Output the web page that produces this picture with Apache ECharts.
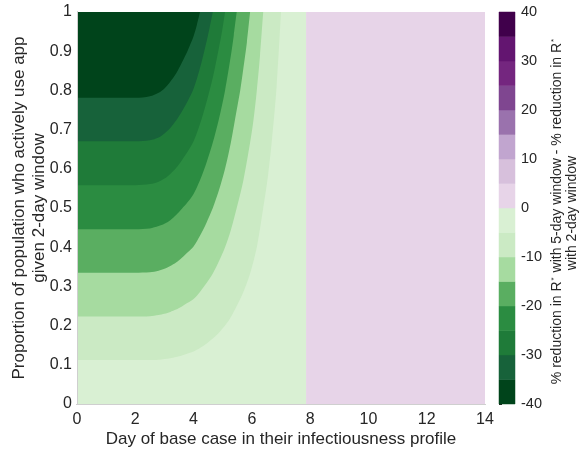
<!DOCTYPE html>
<html>
<head>
<meta charset="utf-8">
<script src="https://cdn.jsdelivr.net/npm/echarts@6/dist/echarts.min.js"></script>
<style>
  html, body { margin: 0; padding: 0; background: #ffffff; }
  #chart { width: 582px; height: 450px; }
</style>
</head>
<body>
<div id="chart"></div>
<script>
// Axis ranges and tick settings
const dayRange = [0, 14];
const dayTickStep = 2;
const propRange = [0, 1];
const propTickStep = 0.1;

// Filled contour levels (difference in % reduction of R*) and their colours
const levelEdges = [-40, -35, -30, -25, -20, -15, -10, -5, 0, 5, 10, 15, 20, 25, 30, 35, 40];
const levelColors = [
  '#00441b', '#17623a', '#1f7b39', '#2b8c41', '#5aae61', '#a6dba0', '#cbeac4', '#d9f0d3',
  '#e7d4e8', '#d7c0dc', '#c1a5cf', '#9a72ad', '#7f4690', '#74267f', '#631570', '#40004b'
];
const colorbarTicks = [-40, -30, -20, -10, 0, 10, 20, 30, 40];

// Day beyond which the 5-day window gives no extra reduction (0 to 5 band)
const signChangeDay = 7.86;

// Contour lines [day, proportion] for each negative level
const contourMinus5 = [[0, 0.112], [2.0, 0.112], [2.5, 0.112], [2.8, 0.113], [3.0, 0.115], [3.2, 0.117], [3.4, 0.120], [3.6, 0.124], [3.8, 0.129], [4.0, 0.134], [4.22, 0.143], [4.44, 0.154], [4.66, 0.167], [4.87, 0.182], [5.08, 0.200], [5.28, 0.222], [5.48, 0.250], [5.71, 0.286], [5.94, 0.333], [6.17, 0.400], [6.39, 0.500], [6.55, 0.580], [6.68, 0.667], [6.85, 0.810], [7.0, 1.0]];
const contourMinus10 = [[0, 0.223], [2.0, 0.223], [2.5, 0.224], [2.8, 0.227], [3.0, 0.230], [3.2, 0.235], [3.4, 0.241], [3.6, 0.249], [3.8, 0.258], [4.0, 0.268], [4.22, 0.286], [4.44, 0.308], [4.66, 0.333], [4.87, 0.364], [5.08, 0.400], [5.28, 0.444], [5.48, 0.500], [5.71, 0.571], [5.94, 0.667], [6.06, 0.727], [6.17, 0.800], [6.28, 0.889], [6.39, 1.0]];
const contourMinus15 = [[0, 0.335], [2.0, 0.335], [2.5, 0.336], [2.8, 0.340], [3.0, 0.345], [3.2, 0.352], [3.4, 0.361], [3.6, 0.373], [3.8, 0.387], [4.0, 0.402], [4.22, 0.429], [4.44, 0.462], [4.66, 0.500], [4.87, 0.545], [5.08, 0.600], [5.28, 0.667], [5.48, 0.750], [5.60, 0.800], [5.71, 0.857], [5.83, 0.923], [5.94, 1.0]];
const contourMinus20 = [[0, 0.446], [2.0, 0.446], [2.5, 0.448], [2.8, 0.454], [3.0, 0.460], [3.2, 0.469], [3.4, 0.482], [3.6, 0.498], [3.8, 0.515], [4.0, 0.536], [4.22, 0.571], [4.44, 0.615], [4.66, 0.667], [4.87, 0.727], [5.08, 0.800], [5.28, 0.889], [5.38, 0.941], [5.48, 1.0]];
const contourMinus25 = [[0, 0.558], [2.0, 0.558], [2.5, 0.561], [2.8, 0.567], [3.0, 0.575], [3.2, 0.587], [3.4, 0.602], [3.6, 0.622], [3.8, 0.644], [4.0, 0.670], [4.22, 0.714], [4.44, 0.769], [4.66, 0.833], [4.87, 0.909], [4.98, 0.952], [5.08, 1.0]];
const contourMinus30 = [[0, 0.670], [2.0, 0.670], [2.5, 0.673], [2.8, 0.680], [3.0, 0.690], [3.2, 0.704], [3.4, 0.723], [3.6, 0.746], [3.8, 0.773], [4.0, 0.804], [4.22, 0.857], [4.44, 0.923], [4.55, 0.960], [4.66, 1.0]];
const contourMinus35 = [[0, 0.781], [2.0, 0.781], [2.5, 0.785], [2.8, 0.794], [3.0, 0.805], [3.2, 0.822], [3.4, 0.843], [3.6, 0.871], [3.8, 0.902], [4.0, 0.938], [4.11, 0.966], [4.22, 1.0]];

const textColor = '#262626';
const fontFamily = '"Liberation Sans", Arial, Helvetica, sans-serif';

// Colour of the band that sits just below a given level
function bandColor(lowerEdge) {
  return levelColors[levelEdges.indexOf(lowerEdge)];
}

// A region above a contour line up to the top of the plot
function filledRegion(points, color) {
  return {
    type: 'line',
    xAxisIndex: 0,
    yAxisIndex: 0,
    data: points,
    smooth: 0.3,
    symbol: 'none',
    silent: true,
    animation: false,
    lineStyle: { width: 0, opacity: 0 },
    areaStyle: { color: color, opacity: 1, origin: 'end' }
  };
}

const series = [
  // 0 to 5 band on the late-day side
  filledRegion([[signChangeDay, propRange[0]], [dayRange[1], propRange[0]]], bandColor(0)),
  // -5 to 0 band across the early-day side
  filledRegion([[dayRange[0], propRange[0]], [signChangeDay, propRange[0]]], bandColor(-5)),
  filledRegion(contourMinus5, bandColor(-10)),
  filledRegion(contourMinus10, bandColor(-15)),
  filledRegion(contourMinus15, bandColor(-20)),
  filledRegion(contourMinus20, bandColor(-25)),
  filledRegion(contourMinus25, bandColor(-30)),
  filledRegion(contourMinus30, bandColor(-35)),
  filledRegion(contourMinus35, bandColor(-40)),
  // colour bar
  {
    type: 'custom',
    xAxisIndex: 2,
    yAxisIndex: 2,
    silent: true,
    animation: false,
    data: levelEdges.slice(0, -1).map((lo, i) => [lo, levelEdges[i + 1], i]),
    encode: { y: [0, 1] },
    renderItem: function (params, api) {
      const lo = api.value(0);
      const hi = api.value(1);
      const a = api.coord([0, hi]);
      const b = api.coord([1, lo]);
      const c = levelColors[api.value(2)];
      return {
        type: 'rect',
        shape: { x: a[0], y: a[1], width: b[0] - a[0], height: b[1] - a[1] },
        style: { fill: c, stroke: c, lineWidth: 0.5 }
      };
    }
  }
];

const chart = echarts.init(document.getElementById('chart'), null, { renderer: 'canvas' });

chart.setOption({
  backgroundColor: '#ffffff',
  animation: false,
  grid: [
    { left: 77, top: 12, width: 408, height: 392, show: false },
    { left: 499, top: 12, width: 16, height: 392, show: false }
  ],
  xAxis: [
    {
      type: 'value', gridIndex: 0, position: 'bottom',
      min: dayRange[0], max: dayRange[1], interval: dayTickStep,
      axisLine: { show: true, lineStyle: { color: '#8c8c8c', width: 1 } },
      axisTick: { show: false },
      splitLine: { show: false },
      axisLabel: { color: textColor, fontSize: 16, fontFamily: fontFamily, margin: 8 },
      z: 10
    },
    {
      type: 'value', gridIndex: 0, position: 'top',
      min: dayRange[0], max: dayRange[1],
      axisLine: { show: true, lineStyle: { color: '#cfcfcf', width: 1 } },
      axisTick: { show: false }, axisLabel: { show: false }, splitLine: { show: false },
      z: 10
    },
    {
      type: 'value', gridIndex: 1, min: 0, max: 1, show: false
    }
  ],
  yAxis: [
    {
      type: 'value', gridIndex: 0, position: 'left',
      min: propRange[0], max: propRange[1], interval: propTickStep,
      axisLine: { show: true, lineStyle: { color: '#8c8c8c', width: 1 } },
      axisTick: { show: false },
      splitLine: { show: false },
      axisLabel: {
        color: textColor, fontSize: 16, fontFamily: fontFamily, margin: 5,
        formatter: v => String(Math.round(v * 10) / 10)
      },
      z: 10
    },
    {
      type: 'value', gridIndex: 0, position: 'right',
      min: propRange[0], max: propRange[1],
      axisLine: { show: true, lineStyle: { color: '#cfcfcf', width: 1 } },
      axisTick: { show: false }, axisLabel: { show: false }, splitLine: { show: false },
      z: 10
    },
    {
      type: 'value', gridIndex: 1, position: 'right',
      min: levelEdges[0], max: levelEdges[levelEdges.length - 1], interval: 10,
      axisLine: { show: false },
      axisTick: { show: true, length: 3, lineStyle: { color: textColor } },
      splitLine: { show: false },
      axisLabel: {
        color: textColor, fontSize: 14.5, fontFamily: fontFamily, margin: 6,
        customValues: colorbarTicks
      }
    }
  ],
  graphic: [
    {
      type: 'text', x: 281, y: 439, silent: true,
      style: {
        text: 'Day of base case in their infectiousness profile',
        fill: textColor, font: '17px ' + fontFamily,
        align: 'center', verticalAlign: 'middle'
      }
    },
    {
      type: 'text', x: 19.5, y: 208, rotation: Math.PI / 2, silent: true,
      style: {
        text: 'Proportion of population who actively use app',
        fill: textColor, font: '17px ' + fontFamily,
        align: 'center', verticalAlign: 'middle'
      }
    },
    {
      type: 'text', x: 39.5, y: 208, rotation: Math.PI / 2, silent: true,
      style: {
        text: 'given 2-day window',
        fill: textColor, font: '17px ' + fontFamily,
        align: 'center', verticalAlign: 'middle'
      }
    },
    {
      type: 'text', x: 557, y: 211, rotation: Math.PI / 2, silent: true,
      style: {
        text: '% reduction in R{sup|*} with 5-day window - % reduction in R{sup|*}',
        fill: textColor, font: '14px ' + fontFamily,
        align: 'center', verticalAlign: 'middle',
        rich: {
          sup: { fontSize: 8, fontFamily: fontFamily, fill: textColor, verticalAlign: 'top', padding: [0, 1, 6, 1] }
        }
      }
    },
    {
      type: 'text', x: 572, y: 213, rotation: Math.PI / 2, silent: true,
      style: {
        text: 'with 2-day window',
        fill: textColor, font: '14px ' + fontFamily,
        align: 'center', verticalAlign: 'middle'
      }
    }
  ],
  series: series
});
</script>
</body>
</html>
